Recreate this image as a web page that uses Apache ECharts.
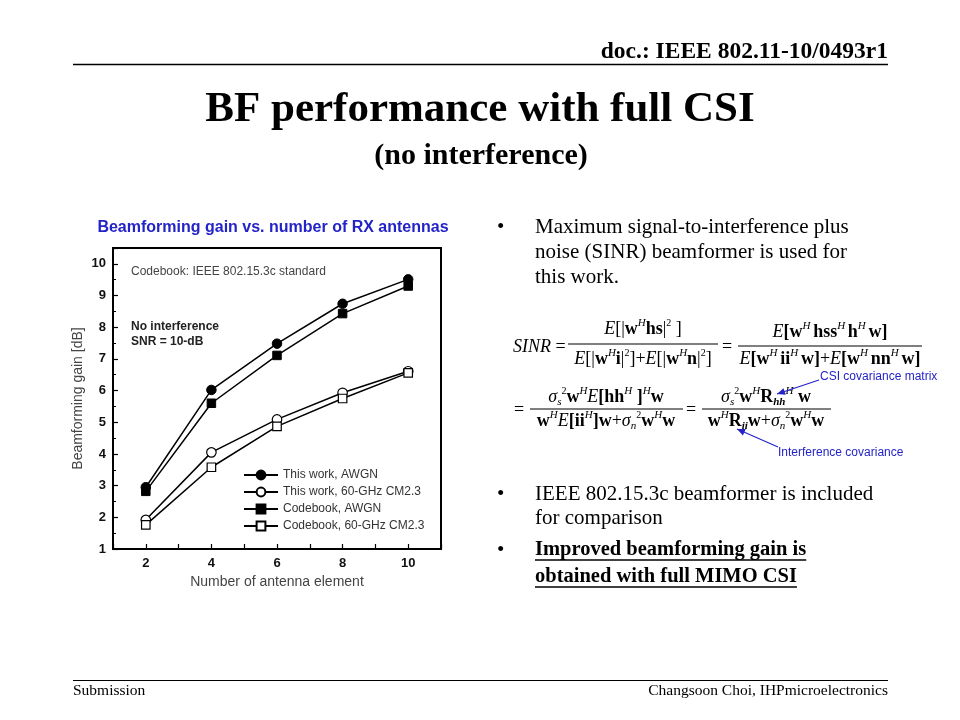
<!DOCTYPE html>
<html><head><meta charset="utf-8">
<script src="https://cdn.jsdelivr.net/npm/echarts@6/dist/echarts.min.js"></script>
<style>html,body{margin:0;padding:0;background:#fff}#c{width:960px;height:720px}</style>
</head><body><div id="c"></div>
<script>
// ---- data ----
const antennas = [2, 4, 6, 8, 10];
const thisWorkAWGN = [2.95, 6.02, 7.48, 8.74, 9.51];
const thisWorkCM = [1.92, 4.05, 5.09, 5.93, 6.61];
const codebookAWGN = [2.82, 5.60, 7.11, 8.43, 9.30];
const codebookCM = [1.76, 3.58, 4.87, 5.75, 6.56];
const seriesNames = ['This work, AWGN', 'This work, 60-GHz CM2.3', 'Codebook, AWGN', 'Codebook, 60-GHz CM2.3'];
const xTickLabels = [2, 4, 6, 8, 10];
const yTickLabels = [1, 2, 3, 4, 5, 6, 7, 8, 9, 10];

const SERIF = "'Liberation Serif','Times New Roman',serif";
const SANS = "'Liberation Sans',Arial,sans-serif";
const BLUE = '#2323c8';

function pairs(vals) { return antennas.map((a, i) => [a, vals[i]]); }

const measureCtx = document.createElement('canvas').getContext('2d');
function textWidth(t, font) { measureCtx.font = font; return measureCtx.measureText(t).width; }

const FS = 18;
const rich = {
  n: { fontFamily: SERIF, fontSize: FS, lineHeight: 22, fill: '#000' },
  b: { fontFamily: SERIF, fontSize: FS, fontWeight: 'bold', lineHeight: 22, fill: '#000' },
  i: { fontFamily: SERIF, fontSize: FS, fontStyle: 'italic', lineHeight: 22, fill: '#000' },
  sup: { fontFamily: SERIF, fontSize: 11, fontStyle: 'italic', lineHeight: 10, verticalAlign: 'top', fill: '#000' },
  s2: { fontFamily: SERIF, fontSize: 10, lineHeight: 9, verticalAlign: 'top', fill: '#000' },
  sub: { fontFamily: SERIF, fontSize: 11, fontStyle: 'italic', lineHeight: 8, verticalAlign: 'bottom', fill: '#000' },
  subi: { fontFamily: SERIF, fontSize: 11, fontStyle: 'italic', fontWeight: 'bold', lineHeight: 8, verticalAlign: 'bottom', fill: '#000' }
};

const G = [];
function txt(x, y, text, font, opts) {
  opts = opts || {};
  G.push({ type: 'text', x: x, y: y, silent: true,
    style: { text: text, font: font, fill: opts.fill || '#000', align: opts.align || 'left', verticalAlign: opts.va || 'middle' } });
}
function line(x1, y1, x2, y2, w, c) {
  G.push({ type: 'line', silent: true, shape: { x1: x1, y1: y1, x2: x2, y2: y2 }, style: { stroke: c || '#000', lineWidth: w || 1 } });
}
function rtxt(x, y, text, align) {
  G.push({ type: 'text', x: x, y: y, silent: true,
    style: { text: text, rich: rich, align: align || 'center', verticalAlign: 'middle', fill: '#000', font: FS + 'px ' + SERIF } });
}
function frac(cx, x1, x2, yNum, yLine, yDen, num, den) {
  rtxt(cx, yNum, num); line(x1, yLine, x2, yLine, 1.2); rtxt(cx, yDen, den);
}
function arrow(x1, y1, x2, y2) {
  line(x1, y1, x2, y2, 1.2, BLUE);
  const a = Math.atan2(y2 - y1, x2 - x1), L = 8, W = 3.5;
  const bx = x2 - L * Math.cos(a), by = y2 - L * Math.sin(a);
  G.push({ type: 'polygon', silent: true, shape: { points: [[x2, y2],
    [bx + W * Math.sin(a), by - W * Math.cos(a)], [bx - W * Math.sin(a), by + W * Math.cos(a)]] }, style: { fill: BLUE } });
}

// header / footer
txt(888, 52, 'doc.: IEEE 802.11-10/0493r1', 'bold 23.5px ' + SERIF, { align: 'right' });
line(73, 64.5, 888, 64.5, 1.5);
txt(480, 110, 'BF performance with full CSI', 'bold 43px ' + SERIF, { align: 'center' });
txt(481, 156, '(no interference)', 'bold 30px ' + SERIF, { align: 'center' });
line(73, 680.5, 888, 680.5, 1.2);
txt(73, 691, 'Submission', '15.5px ' + SERIF);
txt(888, 691, 'Changsoon Choi, IHPmicroelectronics', '15.5px ' + SERIF, { align: 'right' });

// bullets
const BF = '21px ' + SERIF;
txt(497, 227, '•', BF); txt(535, 227, 'Maximum signal-to-interference plus', BF);
txt(535, 252, 'noise (SINR) beamformer is used for', BF);
txt(535, 277, 'this work.', BF);
txt(497, 494, '•', BF); txt(535, 494, 'IEEE 802.15.3c beamformer is included', BF);
txt(535, 518, 'for comparison', BF);
const BB = 'bold 20.5px ' + SERIF;
txt(497, 550, '•', BF);
const l1 = 'Improved beamforming gain is', l2 = 'obtained with full MIMO CSI';
txt(535, 550, l1, BB); line(535, 560, 535 + textWidth(l1, BB), 560, 1.5);
txt(535, 577, l2, BB); line(535, 587, 535 + textWidth(l2, BB), 587, 1.5);

// formulas
rtxt(513, 347, '{i|SINR}{n| =}', 'left');
frac(643, 568, 718, 329, 344, 359,
  '{i|E}{n|[|}{b|w}{sup|H}{b|hs}{n||}{s2|2}{n| ]}',
  '{i|E}{n|[|}{b|w}{sup|H}{b|i}{n||}{s2|2}{n|]+}{i|E}{n|[|}{b|w}{sup|H}{b|n}{n||}{s2|2}{n|]}');
rtxt(727, 347, '{n|=}');
frac(830, 738, 922, 332, 346, 359,
  '{i|E}{b|[w}{sup|H }{b|hss}{sup|H }{b|h}{sup|H }{b|w]}',
  '{i|E}{b|[w}{sup|H }{b|ii}{sup|H }{b|w]}{n|+}{i|E}{b|[w}{sup|H }{b|nn}{sup|H }{b|w]}');
rtxt(519, 410, '{n|=}');
frac(606, 530, 683, 397, 409, 421,
  '{i|σ}{sub|s}{s2|2}{b|w}{sup|H}{i|E}{b|[hh}{sup|H}{b| ]}{sup|H}{b|w}',
  '{b|w}{sup|H}{i|E}{b|[ii}{sup|H}{b|]w}{n|+}{i|σ}{sub|n}{s2|2}{b|w}{sup|H}{b|w}');
rtxt(691, 410, '{n|=}');
frac(766, 702, 831, 397, 409, 421,
  '{i|σ}{sub|s}{s2|2}{b|w}{sup|H}{b|R}{subi|hh}{sup|H}{b| w}',
  '{b|w}{sup|H}{b|R}{subi|ii}{b|w}{n|+}{i|σ}{sub|n}{s2|2}{b|w}{sup|H}{b|w}');
txt(820, 377, 'CSI covariance matrix', '12px ' + SANS, { fill: BLUE });
arrow(819, 380, 777, 394);
txt(778, 453, 'Interference covariance', '12px ' + SANS, { fill: BLUE });
arrow(778, 447, 737, 429);

// chart annotations
txt(273, 228, 'Beamforming gain vs. number of RX antennas', 'bold 16px ' + SANS, { align: 'center', fill: BLUE });
txt(131, 272, 'Codebook: IEEE 802.15.3c standard', '12px ' + SANS, { fill: '#444' });
txt(131, 327, 'No interference', 'bold 12px ' + SANS, { fill: '#222' });
txt(131, 342, 'SNR = 10-dB', 'bold 12px ' + SANS, { fill: '#222' });

function mkSeries(name, vals, symbol, filled) {
  return {
    name: name, type: 'line', data: pairs(vals), symbol: symbol, symbolSize: symbol === 'rect' ? 8.5 : 9.5,
    showAllSymbol: true, animation: false,
    lineStyle: { color: '#000', width: 1.5 },
    itemStyle: filled ? { color: '#000', borderColor: '#000', borderWidth: 1 } : { color: '#fff', borderColor: '#000', borderWidth: 1.2 },
    emphasis: { disabled: true }
  };
}

const chart = echarts.init(document.getElementById('c'), null, { renderer: 'canvas' });
chart.setOption({
  backgroundColor: '#fff',
  animation: false,
  grid: { left: 113, top: 248, width: 328, height: 301, show: true, borderColor: '#000', borderWidth: 2, backgroundColor: 'transparent' },
  legend: {
    orient: 'vertical', left: 243, top: 469, padding: 0, itemWidth: 34, itemHeight: 11, itemGap: 5,
    data: seriesNames,
    textStyle: { fontFamily: SANS, fontSize: 12, color: '#333' }
  },
  xAxis: {
    type: 'value', min: 1, max: 11, interval: 1,
    name: 'Number of antenna element', nameLocation: 'middle', nameGap: 26,
    nameTextStyle: { fontFamily: SANS, fontSize: 14, color: '#444' },
    axisLine: { show: true, lineStyle: { color: '#000', width: 2 } },
    axisTick: { show: true, inside: true, length: 5, lineStyle: { color: '#000', width: 1.2 } },
    axisLabel: { margin: 8, fontFamily: SANS, fontWeight: 'bold', fontSize: 13, color: '#111',
      formatter: v => (xTickLabels.indexOf(v) >= 0 ? String(v) : '') },
    splitLine: { show: false }
  },
  yAxis: {
    type: 'value', min: 1, max: 10.5, interval: 1,
    name: 'Beamforming gain [dB]', nameLocation: 'middle', nameGap: 28,
    nameTextStyle: { fontFamily: SANS, fontSize: 14, color: '#444' },
    axisLine: { show: true, lineStyle: { color: '#000', width: 2 } },
    axisTick: { show: true, inside: true, length: 5, lineStyle: { color: '#000', width: 1.2 } },
    minorTick: { show: true, splitNumber: 2, length: 3, lineStyle: { color: '#000', width: 1 } },
    axisLabel: { margin: 7, fontFamily: SANS, fontWeight: 'bold', fontSize: 13, color: '#111',
      formatter: v => (yTickLabels.indexOf(v) >= 0 ? String(v) : '') },
    splitLine: { show: false }
  },
  series: [
    mkSeries(seriesNames[0], thisWorkAWGN, 'circle', true),
    mkSeries(seriesNames[1], thisWorkCM, 'circle', false),
    mkSeries(seriesNames[2], codebookAWGN, 'rect', true),
    mkSeries(seriesNames[3], codebookCM, 'rect', false)
  ],
  graphic: G
});
</script></body></html>
